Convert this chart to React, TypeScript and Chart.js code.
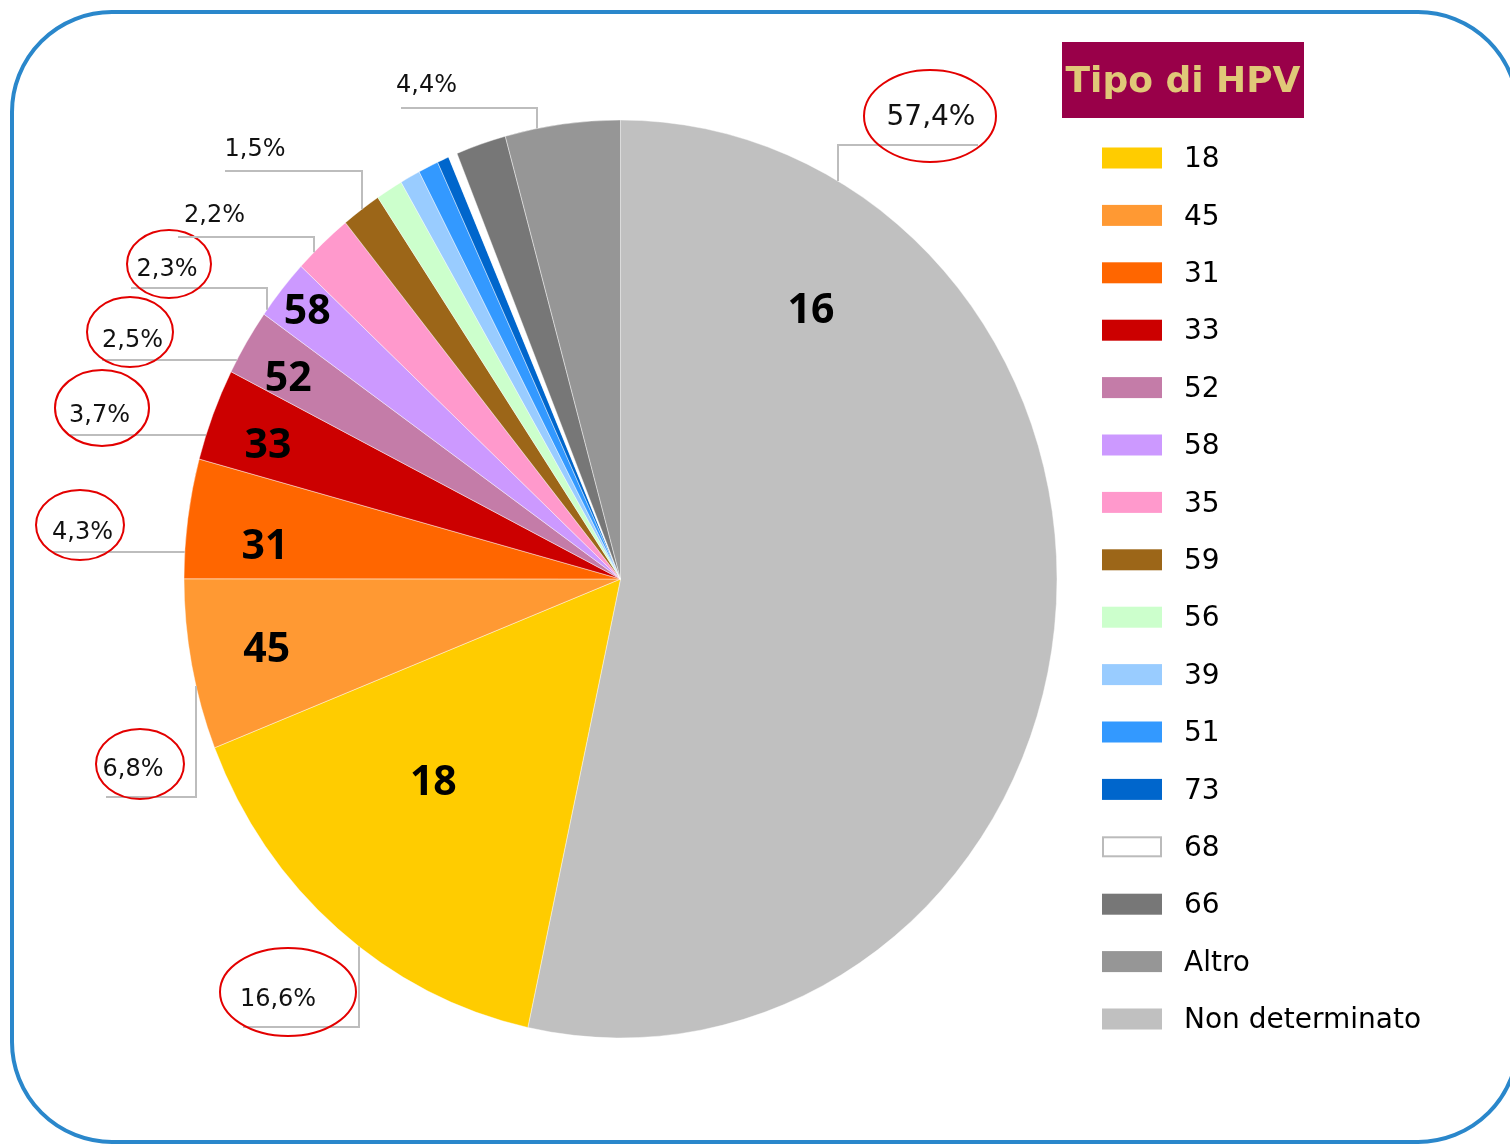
import { useEffect, useRef } from 'react';
import { Chart, registerables } from 'chart.js';

Chart.register(...registerables);

// ---- data ----
const sliceTypes = ['16', '18', '45', '31', '33', '52', '58', '35', '59', '56', '39', '51', '73', '68', '66', 'Altro'];
const sliceValues = [53.4, 15.6, 6.0, 4.2, 3.25, 2.33, 2.14, 2.22, 1.47, 1.0, 0.75, 0.75, 0.44, 0.33, 1.86, 4.25];
const sliceColors = ['#C0C0C0', '#FFCC00', '#FF9933', '#FF6600', '#CC0000', '#C47CA8', '#CC99FF', '#FF99CC', '#9C6618', '#CCFFCC', '#99CCFF', '#3399FF', '#0066CC', '#FFFFFF', '#777777', '#969696'];
const percentLabels = ['57,4%', '16,6%', '6,8%', '4,3%', '3,7%', '2,5%', '2,3%', '2,2%', '1,5%', '', '', '', '', '', '', '4,4%'];
const innerTags = ['16', '18', '45', '31', '33', '52', '58'];

const legendTitle = 'Tipo di HPV';
const legendLabels = ['18', '45', '31', '33', '52', '58', '35', '59', '56', '39', '51', '73', '68', '66', 'Altro', 'Non determinato'];
const legendColors = ['#FFCC00', '#FF9933', '#FF6600', '#CC0000', '#C47CA8', '#CC99FF', '#FF99CC', '#9C6618', '#CCFFCC', '#99CCFF', '#3399FF', '#0066CC', '#FFFFFF', '#777777', '#969696', '#C0C0C0'];

// ---- layout (positions / styles, not data) ----
const SY = 1.0515; // vertical stretch of the pie
const innerTagLayout = [
  { a: 0.19, r: 0.733 },
  { a: 0.572, r: 0.613 },
  { a: 0.514, r: 0.824 },
  { a: 0.344, r: 0.818 },
  { a: 0.427, r: 0.86 },
  { a: 0.39, r: 0.88 },
  { a: 0.52, r: 0.927 },
];
type OutLayout = { i: number; tx: number; ty: number; size: number; ring: number[] | null; ly: number; lx0: number; elbow: number | null; up: boolean };
const outLayout: OutLayout[] = [
  { i: 0, tx: 931, ty: 115, size: 28, ring: [930, 116, 66, 46], ly: 145, lx0: 978, elbow: 838, up: true },
  { i: 1, tx: 278, ty: 997, size: 24, ring: [288, 992, 68, 44], ly: 1027, lx0: 243, elbow: 359, up: false },
  { i: 2, tx: 133, ty: 767, size: 24, ring: [140, 764, 44, 35], ly: 797, lx0: 106, elbow: 196, up: false },
  { i: 3, tx: 82.5, ty: 530, size: 24, ring: [80, 525, 44, 35], ly: 552, lx0: 52, elbow: null, up: true },
  { i: 4, tx: 99.5, ty: 413, size: 24, ring: [102, 408, 47, 38], ly: 435, lx0: 70, elbow: null, up: true },
  { i: 5, tx: 132.5, ty: 338, size: 24, ring: [130, 332, 43, 35], ly: 360, lx0: 102, elbow: null, up: true },
  { i: 6, tx: 167, ty: 267, size: 24, ring: [169, 264, 42, 34], ly: 288, lx0: 131, elbow: 267, up: true },
  { i: 7, tx: 214.5, ty: 213, size: 24, ring: null, ly: 237, lx0: 178, elbow: 314, up: true },
  { i: 8, tx: 255, ty: 147, size: 24, ring: null, ly: 171, lx0: 225, elbow: 362, up: true },
  { i: 15, tx: 426.5, ty: 83, size: 24, ring: null, ly: 108, lx0: 401, elbow: 537, up: true },
];

const frame = {
  id: 'frame',
  beforeDraw(chart: any) {
    const ctx = chart.ctx;
    ctx.save();
    ctx.fillStyle = '#FFFFFF';
    ctx.fillRect(0, 0, chart.width, chart.height);
    ctx.beginPath();
    ctx.roundRect(12, 12, 1506, 1130, 100);
    ctx.lineWidth = 4;
    ctx.strokeStyle = '#2A87CB';
    ctx.stroke();
    ctx.restore();
  },
};

const ellipse = {
  id: 'ellipse',
  beforeDatasetsDraw(chart: any) {
    const arc = chart.getDatasetMeta(0).data[0];
    const ctx = chart.ctx;
    ctx.save();
    ctx.translate(arc.x, arc.y);
    ctx.scale(1, SY);
    ctx.translate(-arc.x, -arc.y);
  },
  afterDatasetsDraw(chart: any) {
    chart.ctx.restore();
  },
};

const labels = {
  id: 'labels',
  afterDraw(chart: any) {
    const ctx = chart.ctx;
    const arcs = chart.getDatasetMeta(0).data;
    const a0 = arcs[0];
    const cx = a0.x;
    const cy = a0.y;
    const R = a0.outerRadius;
    ctx.save();

    // inner tags
    innerTags.forEach((t, i) => {
      const arc = arcs[i];
      const L = innerTagLayout[i];
      const ang = arc.startAngle + L.a * (arc.endAngle - arc.startAngle);
      const x = cx + Math.cos(ang) * R * L.r;
      const y = cy + Math.sin(ang) * R * L.r * SY;
      ctx.font = 'bold 41px "Noto Sans", sans-serif';
      ctx.fillStyle = '#000000';
      ctx.textAlign = 'center';
      ctx.textBaseline = 'alphabetic';
      ctx.fillText(t, x, y + 0.357 * 41);
    });

    // outside percentage labels with leader lines
    outLayout.forEach((o) => {
      ctx.strokeStyle = '#BDBDBD';
      ctx.lineWidth = 2;
      ctx.beginPath();
      ctx.moveTo(o.lx0, o.ly);
      if (o.elbow !== null) {
        const dx = o.elbow - cx;
        const h = Math.sqrt(Math.max(R * R - dx * dx, 0)) * SY;
        const ey = o.up ? cy - h : cy + h;
        ctx.lineTo(o.elbow, o.ly);
        ctx.lineTo(o.elbow, ey);
      } else {
        const dy = (o.ly - cy) / SY;
        const ex = cx - Math.sqrt(Math.max(R * R - dy * dy, 0));
        ctx.lineTo(ex, o.ly);
      }
      ctx.stroke();

      ctx.font = `${o.size}px "DejaVu Sans", sans-serif`;
      ctx.fillStyle = '#111111';
      ctx.textAlign = 'center';
      ctx.textBaseline = 'alphabetic';
      ctx.fillText(percentLabels[o.i], o.tx, o.ty + 0.364 * o.size);

      if (o.ring) {
        ctx.beginPath();
        ctx.ellipse(o.ring[0], o.ring[1], o.ring[2], o.ring[3], 0, 0, Math.PI * 2);
        ctx.strokeStyle = '#E30000';
        ctx.lineWidth = 2;
        ctx.stroke();
      }
    });

    // legend
    ctx.fillStyle = '#990049';
    ctx.fillRect(1062, 42, 242, 76);
    ctx.font = 'bold 36px "DejaVu Sans", sans-serif';
    ctx.fillStyle = '#E0C878';
    ctx.textAlign = 'center';
    ctx.fillText(legendTitle, 1183, 92);

    legendLabels.forEach((lab, i) => {
      const rowY = 157 + i * 57.4;
      ctx.fillStyle = legendColors[i];
      ctx.fillRect(1102, rowY - 9.5, 60, 21);
      if (legendColors[i] === '#FFFFFF') {
        ctx.strokeStyle = '#BBBBBB';
        ctx.lineWidth = 2;
        ctx.strokeRect(1103, rowY - 8.5, 58, 19);
      }
      ctx.font = '28px "DejaVu Sans", sans-serif';
      ctx.fillStyle = '#000000';
      ctx.textAlign = 'left';
      ctx.fillText(lab, 1184, rowY + 0.364 * 28);
    });

    ctx.restore();
  },
};

export default function App() {
  const ref = useRef<HTMLCanvasElement | null>(null);
  useEffect(() => {
    if (!ref.current) return;
    const chart = new Chart(ref.current, {
      type: 'pie',
      data: {
        labels: sliceTypes,
        datasets: [
          {
            data: sliceValues,
            backgroundColor: sliceColors,
            borderColor: 'rgba(255,255,255,0.7)',
            borderWidth: 0.6,
            radius: 436.5,
            clip: false,
          } as any,
        ],
      },
      options: {
        responsive: false,
        animation: false,
        events: [],
        layout: { padding: { left: 184, right: 453, top: 142.5, bottom: 129.5 } },
        plugins: { legend: { display: false }, tooltip: { enabled: false } },
      } as any,
      plugins: [frame, ellipse, labels],
    });
    return () => chart.destroy();
  }, []);
  return (
    <div style={{ position: 'absolute', left: 0, top: 0, width: 1510, height: 1145, overflow: 'hidden' }}>
      <canvas ref={ref} width={1510} height={1145} style={{ width: 1510, height: 1145, display: 'block' }} />
    </div>
  );
}
